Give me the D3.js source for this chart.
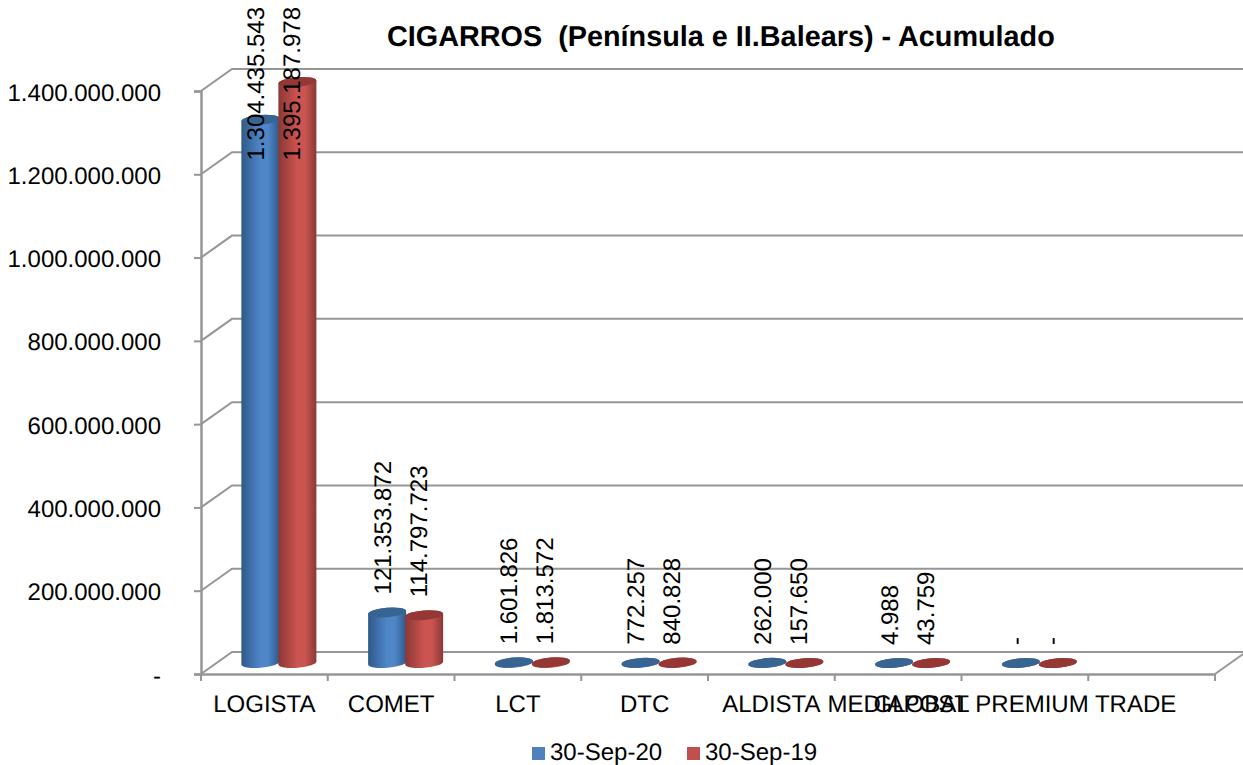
<!DOCTYPE html>
<html>
<head>
<meta charset="utf-8">
<script src="https://cdn.jsdelivr.net/npm/d3@7"></script>
<style>
html,body{margin:0;padding:0;background:#fff}
svg{display:block}
text{font-family:"Liberation Sans",Arial,sans-serif;fill:#000;text-rendering:geometricPrecision}
</style>
</head>
<body>
<div id="chart"></div>
<script>
const categories = ["LOGISTA","COMET","LCT","DTC","ALDISTA","MEDIAPOST","GLOBAL PREMIUM TRADE",""];
const seriesNames = ["30-Sep-20","30-Sep-19"];
const sep20 = [1304435543,121353872,1601826,772257,262000,4988,0,null];
const sep19 = [1395187978,114797723,1813572,840828,157650,43759,0,null];
const tickValues = [0,200000000,400000000,600000000,800000000,1000000000,1200000000,1400000000];
const tickLabels = ["-","200.000.000","400.000.000","600.000.000","800.000.000","1.000.000.000","1.200.000.000","1.400.000.000"];
const titleText = "CIGARROS  (Península e II.Balears) - Acumulado";
const palette = [
  {edge:"#2f5989",mid:"#4f86c8",top:"#386492"},
  {edge:"#8a3836",mid:"#cc5450",top:"#953735"}
];
const gridColor = "#969696";

const W = 1243, H = 765;
const svg = d3.select("#chart").append("svg").attr("width",W).attr("height",H);
const defs = svg.append("defs");
palette.forEach((p,i)=>{
  const g = defs.append("linearGradient").attr("id","cyl"+i);
  g.append("stop").attr("offset","0%").attr("stop-color",p.edge);
  g.append("stop").attr("offset","50%").attr("stop-color",p.mid);
  g.append("stop").attr("offset","70%").attr("stop-color",p.mid);
  g.append("stop").attr("offset","100%").attr("stop-color",p.edge);
});

const x = d3.scaleBand().domain(categories.map((c,i)=>i)).range([201,1215]);
const y = d3.scaleLinear().domain([0,1400000000]).range([674,91]);
const depthX = 31, depthY = -22;
const fmt = d3.formatLocale({decimal:",",thousands:".",grouping:[3],currency:["","" ]}).format(",d");

// walls
const walls = svg.append("g");
walls.selectAll("path.wall").data(tickValues).join("path").attr("class","wall")
  .attr("d",v=>`M${x.range()[0]},${y(v)}L${x.range()[0]+depthX},${y(v)+depthY}L${W+2},${y(v)+depthY}`)
  .attr("fill","none").attr("stroke",gridColor).attr("stroke-width",2);
walls.append("path")
  .attr("d",`M${x.range()[1]},${y(0)}L${x.range()[1]+depthX},${y(0)+depthY}`)
  .attr("fill","none").attr("stroke",gridColor).attr("stroke-width",2);

// axes
const axisL = d3.axisLeft(y).tickValues(tickValues).tickFormat((d,i)=>tickLabels[i]).tickSize(7).tickPadding(33);
const gL = svg.append("g").attr("transform",`translate(${x.range()[0]},0)`).call(axisL);
const axisB = d3.axisBottom(x).tickFormat(i=>categories[i]).tickSize(0).tickPadding(0);
const gB = svg.append("g").attr("transform",`translate(0,${y(0)})`).call(axisB);
gB.selectAll(".tick").attr("transform",i=>`translate(${x(i)+x.bandwidth()/2},0)`);
gB.selectAll(".tick line").remove();
gB.selectAll(".tick text").attr("y",38).attr("dy",0);
svg.append("g").selectAll("line")
  .data(d3.range(categories.length).map(i=>x(i)).concat([x.range()[1]]))
  .join("line").attr("x1",d=>d).attr("x2",d=>d).attr("y1",y(0)).attr("y2",y(0)+7)
  .attr("stroke",gridColor).attr("stroke-width",2);
[gL,gB].forEach(g=>{
  g.selectAll(".domain").attr("stroke",gridColor).attr("stroke-width",2.5);
  g.selectAll(".tick line").attr("stroke",gridColor).attr("stroke-width",2);
  g.selectAll("text").attr("font-size",24).attr("font-family",'"Liberation Sans",Arial,sans-serif').attr("fill","#000");
});
gL.selectAll(".tick text").attr("dy","0.38em");

// cylinders
const baseY = y(0) - 11;
const rx = 19, ry = 4.8, tilt = 1.5;
const shiftX = [-4, 33];
const labelShift = [-5, -6];
const scaleH = v => y(0) - y(v);
const cylPath = (cx,v)=>{
  const t = baseY - scaleH(v);
  return `M${cx-rx},${t+tilt}L${cx-rx},${baseY+tilt}A${rx},${ry} -4.5 0 0 ${cx+rx},${baseY-tilt}L${cx+rx},${t-tilt}A${rx},${ry} -4.5 0 0 ${cx-rx},${t+tilt}Z`;
};
[sep20,sep19].forEach((vals,s)=>{
  const cx = i => x(i)+x.bandwidth()/2+shiftX[s];
  const rows = vals.map((v,i)=>({v,i})).filter(d=>d.v!==null);
  const g = svg.append("g");
  g.selectAll("path").data(rows).join("path")
    .attr("d",d=>cylPath(cx(d.i),d.v))
    .attr("fill",`url(#cyl${s})`);
  g.selectAll("ellipse").data(rows).join("ellipse")
    .attr("cx",0).attr("cy",0).attr("rx",rx).attr("ry",ry)
    .attr("transform",d=>`translate(${cx(d.i)},${baseY-scaleH(d.v)}) rotate(-4.5)`)
    .attr("fill",palette[s].top);
});

// value labels
[sep20,sep19].forEach((vals,s)=>{
  const cx = i => x(i)+x.bandwidth()/2+shiftX[s]+labelShift[s];
  const rows = vals.map((v,i)=>({v,i})).filter(d=>d.v!==null);
  svg.append("g").selectAll("text").data(rows).join("text")
    .text(d=>d.v===0?"-":fmt(d.v))
    .attr("font-size",24)
    .attr("dy","0.35em")
    .each(function(d){
      const bottom = baseY - scaleH(d.v) - 18;
      const len = this.getComputedTextLength();
      const anchorY = bottom - len < 7 ? 7 + len : bottom;
      d3.select(this).attr("transform",`translate(${cx(d.i)},${anchorY}) rotate(-90)`);
    });
});

// title
svg.append("text").attr("x",387).attr("y",46).attr("font-size",28.8).attr("font-weight","bold")
  .style("white-space","pre").text(titleText);

// legend
const legX = [532,687];
const leg = svg.append("g").selectAll("g").data(seriesNames).join("g")
  .attr("transform",(d,i)=>`translate(${legX[i]},0)`);
leg.append("rect").attr("x",0).attr("y",747).attr("width",13).attr("height",13)
  .attr("fill",(d,i)=>i===0?"#4f81bd":"#c0504d");
leg.append("text").attr("x",18).attr("y",759.5).attr("font-size",24).text(d=>d);
</script>
</body>
</html>
